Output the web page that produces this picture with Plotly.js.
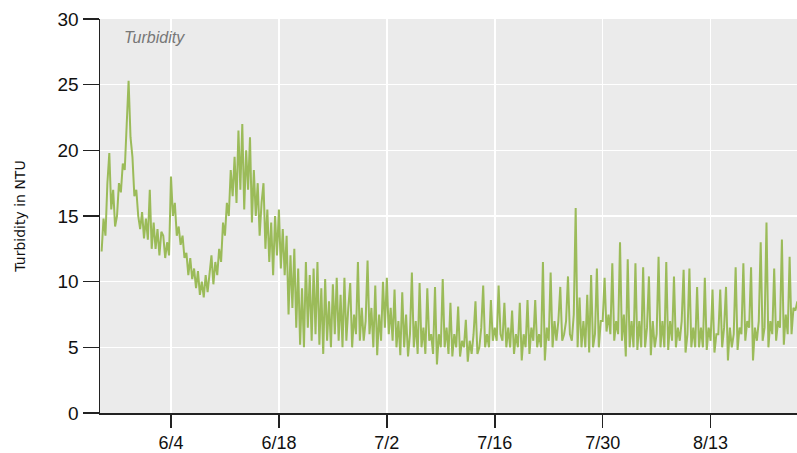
<!DOCTYPE html>
<html>
<head>
<meta charset="utf-8">
<script src="https://cdn.plot.ly/plotly-3.0.1.min.js"></script>
<style>
html,body{margin:0;padding:0;background:#fff;}
#chart{width:797px;height:453px;}
</style>
</head>
<body>
<div id="chart"></div>
<script>
// Turbidity readings (NTU), sampled every 6 hours starting 2013-05-26 00:00
const seriesName = "Turbidity";
const startTime = "2013-05-26T00:00:00";
const stepHours = 6;
const turbidity = [
  12.3,14.8,13.5,17.5, 19.8,15.5,17.0,14.2, 15.0,17.5,16.8,19.0, 18.5,21.5,25.3,21.0,
  19.5,16.5,17.0,15.0, 14.0,15.3,13.3,14.8, 13.2,17.0,12.5,14.5, 12.5,14.0,12.0,13.8,
  13.5,11.8,13.0,12.0, 18.0,15.0,16.0,13.5, 14.2,12.8,13.5,11.8, 12.2,10.5,11.8,10.2,
  11.0,9.5,10.8,9.0, 10.0,8.8,10.5,9.2, 10.5,12.0,9.8,11.5, 10.5,12.5,11.5,14.5,
  13.5,16.0,15.0,18.5, 16.5,19.5,16.0,21.5, 17.0,22.0,15.5,20.0, 17.0,21.0,14.5,18.5,
  15.0,17.5,13.5,16.0, 17.5,12.5,15.5,11.5, 14.5,10.5,15.0,12.0, 15.5,11.0,14.0,10.5,
  13.5,7.5,12.0,8.0, 12.5,6.5,11.0,5.2, 9.5,5.0,11.5,6.5, 10.5,5.5,11.0,6.0,
  11.5,5.2,9.5,4.5, 10.2,5.5,8.5,5.0, 9.8,6.0,10.3,5.5, 9.0,5.0,10.3,5.5,
  8.0,9.9,5.0,7.5, 6.0,11.5,5.5,8.0, 5.5,7.0,11.6,6.0, 8.0,5.0,9.7,4.4,
  7.5,5.5,10.0,6.5, 10.3,6.0,8.0,5.5, 9.4,5.0,7.0,4.4, 9.2,5.0,7.5,4.3,
  6.0,10.7,5.0,7.0, 4.5,9.9,5.0,6.5, 4.5,9.5,5.5,6.0, 4.5,9.6,3.7,6.0,
  5.0,10.2,5.0,6.5, 4.5,8.4,4.3,6.0, 5.0,8.1,4.3,5.5, 5.0,7.1,3.9,5.5,
  4.5,6.0,8.5,4.5, 5.0,6.5,9.7,5.0, 6.0,5.0,8.6,5.5, 6.5,5.5,9.7,6.0,
  5.5,8.4,5.0,6.5, 5.0,7.8,4.5,6.0, 5.0,8.4,4.0,6.0, 5.0,8.6,4.5,6.5,
  5.5,8.6,5.0,6.0, 5.0,11.5,4.0,6.5, 5.5,10.7,5.0,7.0, 5.5,7.0,9.6,5.5,
  6.0,7.0,10.4,6.0, 5.5,7.5,15.6,5.0, 8.8,5.0,7.0,5.0, 9.0,4.6,10.5,5.0,
  6.0,11.0,5.0,7.0, 7.0,10.3,6.2,7.5, 6.0,11.4,5.5,7.0, 6.0,13.0,5.5,7.5,
  4.3,11.7,5.0,7.0, 5.0,11.4,4.8,7.0, 5.0,11.1,5.0,6.5, 10.4,4.4,7.0,5.0,
  6.0,11.9,5.0,7.0, 5.0,11.5,4.8,7.0, 5.5,10.4,5.0,6.5, 5.5,7.0,10.9,4.6,
  6.0,11.0,5.0,6.5, 5.0,9.6,5.0,6.5, 5.0,10.3,4.8,6.5, 5.5,9.4,4.6,6.0,
  6.0,9.4,5.0,6.5, 9.6,4.0,6.5,5.0, 6.0,11.1,4.8,6.5, 6.0,11.4,5.5,7.0,
  6.5,11.1,4.0,6.5, 5.5,7.0,13.0,5.5, 6.5,14.5,5.0,7.0, 6.0,11.0,5.5,7.0,
  6.5,13.2,5.2,7.5, 6.0,11.9,6.0,8.0, 7.8,8.5
];
const xRange = ["2013-05-25T19:00:00", "2013-08-24T05:00:00"];
const tickStart = "2013-06-04";
const tickStepDays = 14;
const yTicks = [0, 5, 10, 15, 20, 25, 30];
const yTitle = "Turbidity in NTU";

const t0 = new Date(startTime + "Z").getTime();
const times = turbidity.map((_, i) => new Date(t0 + i * stepHours * 3600000).toISOString().slice(0, 19));

const trace = {
  x: times,
  y: turbidity,
  type: "scatter",
  mode: "lines",
  name: seriesName,
  line: {color: "#9BBB59", width: 2},
  hoverinfo: "skip"
};

const fam = "'Liberation Sans Narrow', 'Arial Narrow', 'Liberation Sans', sans-serif";

const layout = {
  width: 797, height: 453,
  margin: {l: 100, r: 0, t: 19, b: 40, pad: 0},
  paper_bgcolor: "#ffffff",
  plot_bgcolor: "#EBEBEB",
  showlegend: false,
  xaxis: {
    type: "date",
    range: xRange,
    tick0: tickStart,
    dtick: tickStepDays * 86400000,
    tickformat: "%-m/%-d",
    ticks: "outside",
    ticklen: 13,
    tickwidth: 1.5,
    tickcolor: "#222",
    showline: true,
    linecolor: "#222",
    linewidth: 1.5,
    showgrid: true,
    gridcolor: "#ffffff",
    gridwidth: 1.5,
    zeroline: false,
    tickfont: {family: fam, size: 18, color: "#111"},
    fixedrange: true
  },
  yaxis: {
    range: [0, 30],
    tickvals: yTicks,
    ticks: "outside",
    ticklen: 16,
    tickwidth: 1.5,
    tickcolor: "#222",
    showline: true,
    linecolor: "#222",
    linewidth: 1.5,
    showgrid: true,
    gridcolor: "#ffffff",
    gridwidth: 1.5,
    zeroline: false,
    tickfont: {family: fam, size: 19, color: "#111"},
    title: {text: yTitle, font: {family: "'DejaVu Sans', sans-serif", size: 14, color: "#111"}, standoff: 28},
    fixedrange: true
  },
  annotations: [{
    text: seriesName,
    xref: "paper", yref: "paper",
    x: 0.032, y: 0.952,
    xanchor: "left", yanchor: "middle",
    showarrow: false,
    font: {family: fam, size: 16, color: "#777777", style: "italic"}
  }]
};

Plotly.newPlot("chart", [trace], layout, {displayModeBar: false, staticPlot: true});
</script>
</body>
</html>
